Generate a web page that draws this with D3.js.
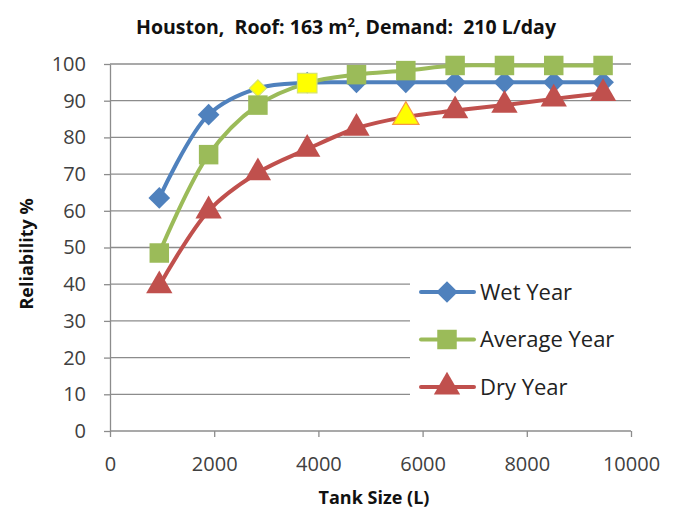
<!DOCTYPE html>
<meta charset="utf-8">
<style>
    body { margin: 0; background: #fff; }
    text { font-family: "Open Sans", sans-serif; }
    .tick text { fill: #404040; font-size: 20px; }
    .grid line { stroke: #8c8c8c; stroke-width: 1.3px; }
    .series path.line { fill: none; stroke-width: 4px; }
</style>
<svg width="677" height="520"></svg>
<script src="https://d3js.org/d3.v7.min.js"></script>
<script>

    // tank sizes (litres) and reliability for each climate year
    var tankSizes = [946, 1893, 2839, 3785, 4731, 5678, 6624, 7571, 8517, 9464];
    var wetYear = [63.5, 86.2, 93.4, 94.9, 95, 95, 95, 95, 95, 95];
    var averageYear = [48.5, 75.3, 88.8, 94.8, 97.1, 98.2, 99.6, 99.6, 99.6, 99.6];
    var dryYear = [39.6, 60, 70.4, 76.8, 82.5, 85.6, 87.3, 88.8, 90.5, 92];
    var seriesNames = ["Wet Year", "Average Year", "Dry Year"];
    // index of the point drawn in yellow on each series
    var highlighted = [2, 3, 5];
    var xTicks = [0, 2000, 4000, 6000, 8000, 10000];
    var yTicks = [0, 10, 20, 30, 40, 50, 60, 70, 80, 90, 100];

    var svg = d3.select("svg"),
        margin = {top: 64, right: 46, bottom: 89, left: 110},
        width = +svg.attr("width") - margin.left - margin.right,
        height = +svg.attr("height") - margin.top - margin.bottom,
        g = svg.append("g").attr("transform", "translate(" + margin.left + "," + margin.top + ")");

    var x = d3.scaleLinear().domain([0, 10000]).range([0, width]),
        y = d3.scaleLinear().domain([0, 100]).range([height, 0]);

    var colors = ["#4f81bd", "#9bbb59", "#c0504d"],
        symbols = [d3.symbolDiamond2, d3.symbolSquare, d3.symbolTriangle],
        symbolSizes = [300, 380, 300];

    var series = [wetYear, averageYear, dryYear].map(function(vals, i) {
        return {
            name: seriesNames[i],
            color: colors[i],
            values: vals.map(function(v, j) { return {size: tankSizes[j], value: v, hi: j == highlighted[i]}; })
        };
    });

    // title with superscript
    var title = svg.append("text")
        .attr("x", 346)
        .attr("y", 34)
        .attr("text-anchor", "middle")
        .attr("font-weight", "bold")
        .attr("font-size", "19.5px")
        .attr("fill", "#111")
        .style("white-space", "pre");
    title.append("tspan").text("Houston,  Roof: 163 m");
    title.append("tspan").attr("dy", -7).attr("font-size", "13px").text("2");
    title.append("tspan").attr("dy", 7).text(", Demand:  210 L/day");

    // horizontal gridlines
    g.append("g")
        .attr("class", "grid")
        .selectAll("line")
        .data(yTicks.slice(1))
        .enter().append("line")
        .attr("x1", 0)
        .attr("x2", width)
        .attr("y1", function(d) { return y(d); })
        .attr("y2", function(d) { return y(d); });

    var yAxis = g.append("g")
        .call(d3.axisLeft(y).tickValues(yTicks).tickSize(6).tickPadding(18).tickSizeOuter(0));

    var xAxis = g.append("g")
        .attr("transform", "translate(0," + height + ")")
        .call(d3.axisBottom(x).tickValues(xTicks).tickFormat(d3.format("d")).tickSize(6).tickPadding(20).tickSizeOuter(0));

    [xAxis, yAxis].forEach(function(a) {
        a.selectAll("line, path").attr("stroke", "#8c8c8c").attr("stroke-width", 1.3);
    });
    xAxis.select(".domain").remove();
    g.append("line")
        .attr("x1", 0).attr("x2", width)
        .attr("y1", height).attr("y2", height)
        .attr("stroke", "#8c8c8c").attr("stroke-width", 1.3);

    // axis titles
    svg.append("text")
        .attr("x", 374)
        .attr("y", 504)
        .attr("text-anchor", "middle")
        .attr("font-weight", "bold")
        .attr("font-size", "18px")
        .attr("fill", "#111")
        .text("Tank Size (L)");

    svg.append("text")
        .attr("transform", "translate(33,254) rotate(-90)")
        .attr("text-anchor", "middle")
        .attr("font-weight", "bold")
        .attr("font-size", "18px")
        .attr("fill", "#111")
        .text("Reliability %");

    var line = d3.line()
        .curve(d3.curveCatmullRom.alpha(0.5))
        .x(function(d) { return x(d.size); })
        .y(function(d) { return y(d.value); });

    var serie = g.selectAll(".series")
        .data(series)
        .enter().append("g")
        .attr("class", "series");

    serie.append("path")
        .attr("class", "line")
        .attr("d", function(d) { return line(d.values); })
        .style("stroke", function(d) { return d.color; });

    serie.each(function(s, i) {
        d3.select(this).selectAll(".pt")
            .data(s.values)
            .enter().append("path")
            .attr("class", "pt")
            .attr("transform", function(d) { return "translate(" + x(d.size) + "," + y(d.value) + ")"; })
            .attr("d", function(d) {
                var sz = d.hi && i == 0 ? 180 : symbolSizes[i];
                return d3.symbol().type(symbols[i]).size(sz)();
            })
            .attr("fill", function(d) { return d.hi ? "#ffff00" : s.color; })
            .attr("stroke", function(d) { return d.hi ? (i == 2 ? "#f79646" : "#d6e36b") : "none"; })
            .attr("stroke-width", 1.2);
    });

    // legend with white background
    var legend = svg.append("g").attr("transform", "translate(410,266)");
    legend.append("rect")
        .attr("width", 221)
        .attr("height", 144)
        .attr("fill", "#fff");

    var item = legend.selectAll(".item")
        .data(series)
        .enter().append("g")
        .attr("class", "item")
        .attr("transform", function(d, i) { return "translate(0," + (26 + i * 47.5) + ")"; });

    item.append("line")
        .attr("x1", 11).attr("x2", 64)
        .attr("stroke", function(d) { return d.color; })
        .attr("stroke-width", 4)
        .attr("stroke-linecap", "round");

    item.append("path")
        .attr("transform", "translate(37,0)")
        .attr("d", function(d, i) { return d3.symbol().type(symbols[i]).size(symbolSizes[i])(); })
        .attr("fill", function(d) { return d.color; });

    item.append("text")
        .attr("x", 70)
        .attr("dy", "0.35em")
        .attr("font-size", "22px")
        .attr("fill", "#222")
        .text(function(d) { return d.name; });

</script>
